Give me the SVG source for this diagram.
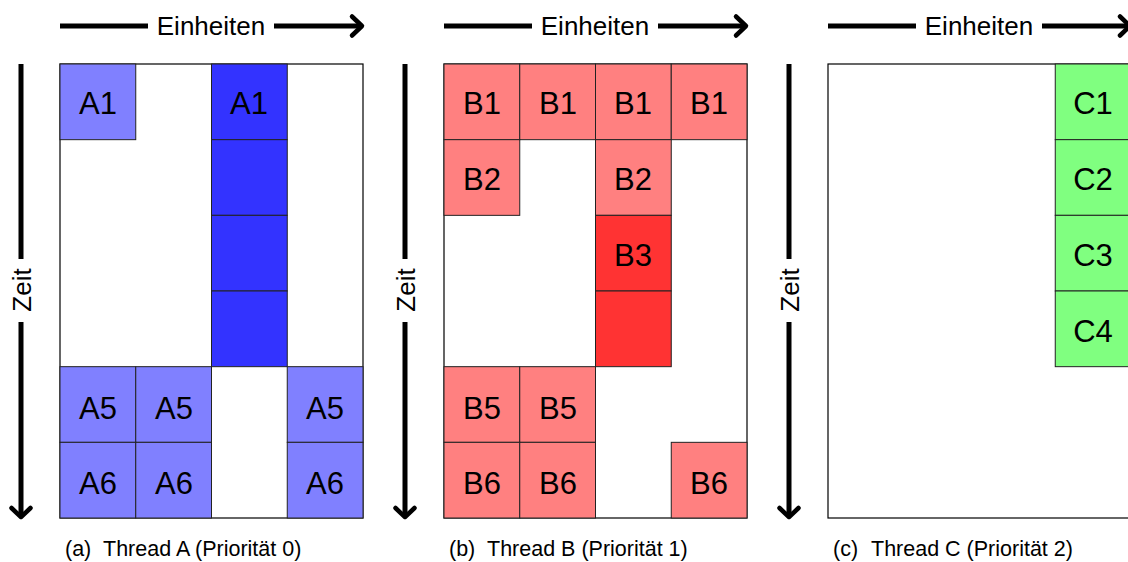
<svg xmlns="http://www.w3.org/2000/svg" width="1128" height="562" viewBox="0 0 1128 562">
<style>
text{font-family:"Liberation Sans",Arial,sans-serif;fill:#000}
.lbl{font-size:31px;text-anchor:middle}
.ax{font-size:26px;text-anchor:middle}
.cap{font-size:21.5px}
.frame{fill:#fff;stroke:#000;stroke-width:1.2}
.cell{stroke:#222;stroke-width:1}
.la{fill:#8080ff}.da{fill:#3333ff}
.lb{fill:#ff8080}.db{fill:#ff3333}
.lc{fill:#80ff80}
.axis{stroke:#000;stroke-width:5;fill:none}
.head{stroke:#000;stroke-width:4.5;fill:none;stroke-linecap:round;stroke-linejoin:round}
</style>

<!-- Panel A -->
<g id="panelA">
  <rect class="frame" x="60" y="64" width="303" height="454"/>
  <g id="a-cells">
    <rect class="cell la" x="60" y="64" width="75.75" height="75.67"/>
    <rect class="cell da" x="211.5" y="64" width="75.75" height="75.67"/>
    <rect class="cell da" x="211.5" y="139.67" width="75.75" height="75.67"/>
    <rect class="cell da" x="211.5" y="215.33" width="75.75" height="75.67"/>
    <rect class="cell da" x="211.5" y="291" width="75.75" height="75.67"/>
    <rect class="cell la" x="60" y="366.67" width="75.75" height="75.67"/>
    <rect class="cell la" x="135.75" y="366.67" width="75.75" height="75.67"/>
    <rect class="cell la" x="287.25" y="366.67" width="75.75" height="75.67"/>
    <rect class="cell la" x="60" y="442.33" width="75.75" height="75.67"/>
    <rect class="cell la" x="135.75" y="442.33" width="75.75" height="75.67"/>
    <rect class="cell la" x="287.25" y="442.33" width="75.75" height="75.67"/>
    <text class="lbl" x="98" y="114">A1</text>
    <text class="lbl" x="249" y="114">A1</text>
    <text class="lbl" x="98" y="419">A5</text>
    <text class="lbl" x="174" y="419">A5</text>
    <text class="lbl" x="325" y="419">A5</text>
    <text class="lbl" x="98" y="494">A6</text>
    <text class="lbl" x="174" y="494">A6</text>
    <text class="lbl" x="325" y="494">A6</text>
  </g>
  <text class="cap" x="65" y="556">(a)</text>
  <text class="cap" x="103" y="556">Thread A (Priorität 0)</text>
</g>

<!-- Panel B -->
<g id="panelB">
  <rect class="frame" x="444" y="64" width="303" height="454"/>
  <g id="b-cells">
    <rect class="cell lb" x="444" y="64" width="75.75" height="75.67"/>
    <rect class="cell lb" x="519.75" y="64" width="75.75" height="75.67"/>
    <rect class="cell lb" x="595.5" y="64" width="75.75" height="75.67"/>
    <rect class="cell lb" x="671.25" y="64" width="75.75" height="75.67"/>
    <rect class="cell lb" x="444" y="139.67" width="75.75" height="75.67"/>
    <rect class="cell lb" x="595.5" y="139.67" width="75.75" height="75.67"/>
    <rect class="cell db" x="595.5" y="215.33" width="75.75" height="75.67"/>
    <rect class="cell db" x="595.5" y="291" width="75.75" height="75.67"/>
    <rect class="cell lb" x="444" y="366.67" width="75.75" height="75.67"/>
    <rect class="cell lb" x="519.75" y="366.67" width="75.75" height="75.67"/>
    <rect class="cell lb" x="444" y="442.33" width="75.75" height="75.67"/>
    <rect class="cell lb" x="519.75" y="442.33" width="75.75" height="75.67"/>
    <rect class="cell lb" x="671.25" y="442.33" width="75.75" height="75.67"/>
    <text class="lbl" x="482" y="114">B1</text>
    <text class="lbl" x="558" y="114">B1</text>
    <text class="lbl" x="633" y="114">B1</text>
    <text class="lbl" x="709" y="114">B1</text>
    <text class="lbl" x="482" y="190">B2</text>
    <text class="lbl" x="633" y="190">B2</text>
    <text class="lbl" x="633" y="266">B3</text>
    <text class="lbl" x="482" y="419">B5</text>
    <text class="lbl" x="558" y="419">B5</text>
    <text class="lbl" x="482" y="494">B6</text>
    <text class="lbl" x="558" y="494">B6</text>
    <text class="lbl" x="709" y="494">B6</text>
  </g>
  <text class="cap" x="449" y="556">(b)</text>
  <text class="cap" x="487" y="556">Thread B (Priorität 1)</text>
</g>

<!-- Panel C -->
<g id="panelC">
  <rect class="frame" x="828" y="64" width="303" height="454"/>
  <g id="c-cells">
    <rect class="cell lc" x="1055.25" y="64" width="75.75" height="75.67"/>
    <rect class="cell lc" x="1055.25" y="139.67" width="75.75" height="75.67"/>
    <rect class="cell lc" x="1055.25" y="215.33" width="75.75" height="75.67"/>
    <rect class="cell lc" x="1055.25" y="291" width="75.75" height="75.67"/>
    <text class="lbl" x="1093" y="114">C1</text>
    <text class="lbl" x="1093" y="190">C2</text>
    <text class="lbl" x="1093" y="266">C3</text>
    <text class="lbl" x="1093" y="342">C4</text>
  </g>
  <text class="cap" x="833" y="556">(c)</text>
  <text class="cap" x="871" y="556">Thread C (Priorität 2)</text>
</g>

<!-- Axes -->
<g id="connectors">
  <!-- panel A -->
  <path class="axis" d="M60 26H148M274 26H360"/>
  <path class="head" d="M352 16.5L362 26L352 35.5"/>
  <text class="ax" x="211" y="35">Einheiten</text>
  <path class="axis" d="M21 64V259M21 322V515"/>
  <path class="head" d="M11.5 508L21 517L30.5 508"/>
  <text class="ax" transform="translate(31 290) rotate(-90)" x="0" y="0">Zeit</text>
  <!-- panel B -->
  <path class="axis" d="M444 26H532M658 26H744"/>
  <path class="head" d="M736 16.5L746 26L736 35.5"/>
  <text class="ax" x="595" y="35">Einheiten</text>
  <path class="axis" d="M405 64V259M405 322V515"/>
  <path class="head" d="M395.5 508L405 517L414.5 508"/>
  <text class="ax" transform="translate(415 290) rotate(-90)" x="0" y="0">Zeit</text>
  <!-- panel C -->
  <path class="axis" d="M828 26H916M1042 26H1128"/>
  <path class="head" d="M1120 16.5L1130 26L1120 35.5"/>
  <text class="ax" x="979" y="35">Einheiten</text>
  <path class="axis" d="M789 64V259M789 322V515"/>
  <path class="head" d="M779.5 508L789 517L798.5 508"/>
  <text class="ax" transform="translate(799 290) rotate(-90)" x="0" y="0">Zeit</text>
</g>
</svg>
